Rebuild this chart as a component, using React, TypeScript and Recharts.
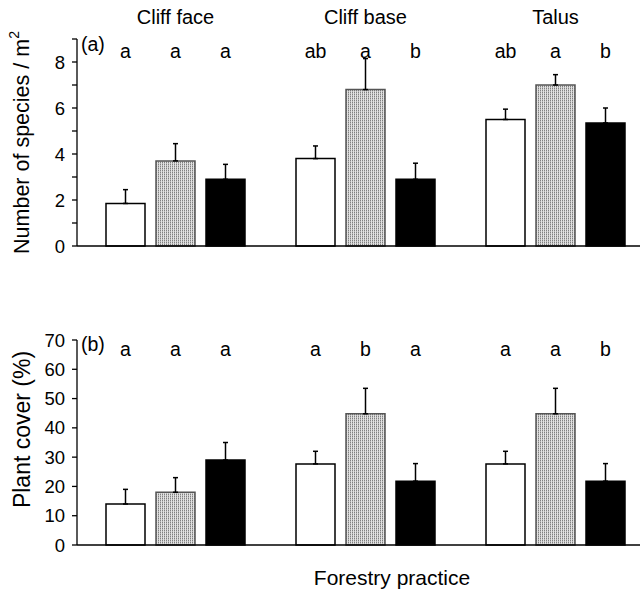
import { BarChart, Bar, XAxis, YAxis, ErrorBar, LabelList } from "recharts";

const FONT = '"Liberation Sans", Arial, Helvetica, sans-serif';

// sites along the slope
const sites = ["Cliff face", "Cliff base", "Talus"];

// (a) species richness, per m2
const speciesOpen = [1.85, 3.8, 5.5];
const speciesStipple = [3.7, 6.8, 7.0];
const speciesSolid = [2.9, 2.9, 5.35];
const speciesOpenErr = [0.6, 0.55, 0.45];
const speciesStippleErr = [0.75, 1.35, 0.45];
const speciesSolidErr = [0.65, 0.7, 0.65];
const speciesOpenSig = ["a", "ab", "ab"];
const speciesStippleSig = ["a", "a", "a"];
const speciesSolidSig = ["a", "b", "b"];
const speciesTicks = [0, 1, 2, 3, 4, 5, 6, 7, 8, 9];

// (b) plant cover, %
const coverOpen = [14, 27.7, 27.7];
const coverStipple = [18, 44.8, 44.8];
const coverSolid = [29, 21.8, 21.8];
const coverOpenErr = [5, 4.3, 4.3];
const coverStippleErr = [5, 8.7, 8.7];
const coverSolidErr = [6, 6, 6];
const coverOpenSig = ["a", "a", "a"];
const coverStippleSig = ["a", "b", "a"];
const coverSolidSig = ["a", "a", "b"];
const coverTicks = [0, 10, 20, 30, 40, 50, 60, 70];

const speciesData = sites.map((site, i) => ({
  site,
  open: speciesOpen[i],
  stipple: speciesStipple[i],
  solid: speciesSolid[i],
  openErr: speciesOpenErr[i],
  stippleErr: speciesStippleErr[i],
  solidErr: speciesSolidErr[i],
  openSig: speciesOpenSig[i],
  stippleSig: speciesStippleSig[i],
  solidSig: speciesSolidSig[i],
}));

const coverData = sites.map((site, i) => ({
  site,
  open: coverOpen[i],
  stipple: coverStipple[i],
  solid: coverSolid[i],
  openErr: coverOpenErr[i],
  stippleErr: coverStippleErr[i],
  solidErr: coverSolidErr[i],
  openSig: coverOpenSig[i],
  stippleSig: coverStippleSig[i],
  solidSig: coverSolidSig[i],
}));

const textStyle = { fontFamily: FONT, fill: "#000" };

// letter drawn over a bar at a fixed height
const letterAt = (y: number) => (props: any) => {
  const { x, width, value } = props;
  return (
    <text x={Number(x) + Number(width) / 2} y={y} textAnchor="middle" fontSize={19.5} {...textStyle}>
      {value}
    </text>
  );
};

const siteLabel = (props: any) => {
  const { x, width, value } = props;
  return (
    <text x={Number(x) + Number(width) / 2} y={24} textAnchor="middle" fontSize={20} {...textStyle}>
      {value}
    </text>
  );
};

const axisTitle = (title: any, size: number, tag: string, tagY: number, shift: number) => (props: any) => {
  const vb = props.viewBox || {};
  const cy = vb.y + vb.height / 2 + shift;
  return (
    <g>
      <text
        x={22}
        y={cy}
        transform={`rotate(-90, 22, ${cy})`}
        textAnchor="middle"
        dominantBaseline="central"
        fontSize={size}
        {...textStyle}
      >
        {title}
      </text>
      <text x={81} y={tagY} fontSize={19.5} {...textStyle}>
        {tag}
      </text>
    </g>
  );
};

const axisStroke = { stroke: "#000", strokeWidth: 1.3 };

function Panel({
  data,
  height,
  top,
  xAxisHeight,
  domain,
  ticks,
  tickFormatter,
  title,
  titleSize,
  titleShift,
  tag,
  tagY,
  letterY,
  showSites,
  xLabel,
}: any) {
  return (
    <BarChart
      width={650}
      height={height}
      data={data}
      margin={{ top, right: 0, left: 0, bottom: 0 }}
      barSize={39}
      barGap={11}
    >
      <XAxis
        dataKey="site"
        tick={false}
        tickLine={false}
        height={xAxisHeight}
        padding={{ left: 3, right: 0 }}
        axisLine={axisStroke}
        label={xLabel}
      />
      <YAxis
        width={77}
        domain={domain}
        ticks={ticks}
        interval={0}
        tickSize={5}
        tickMargin={7}
        tickLine={axisStroke}
        axisLine={axisStroke}
        tickFormatter={tickFormatter}
        tick={{ fontSize: 18.5, fontFamily: FONT, fill: "#000" }}
        label={{ content: axisTitle(title, titleSize, tag, tagY, titleShift) }}
      />
      <Bar dataKey="open" fill="#fff" stroke="#000" strokeWidth={1.5} isAnimationActive={false}>
        <ErrorBar dataKey={(d: any) => [0, d.openErr]} width={2.5} stroke="#000" strokeWidth={1.5} direction="y" />
        <LabelList dataKey="openSig" content={letterAt(letterY)} />
      </Bar>
      <Bar dataKey="stipple" fill="url(#stipple)" stroke="#555" strokeWidth={1.5} isAnimationActive={false}>
        <ErrorBar dataKey={(d: any) => [0, d.stippleErr]} width={2.5} stroke="#000" strokeWidth={1.5} direction="y" />
        <LabelList dataKey="stippleSig" content={letterAt(letterY)} />
        {showSites && <LabelList dataKey="site" content={siteLabel} />}
      </Bar>
      <Bar dataKey="solid" fill="#000" stroke="#000" strokeWidth={1.5} isAnimationActive={false}>
        <ErrorBar dataKey={(d: any) => [0, d.solidErr]} width={2.5} stroke="#000" strokeWidth={1.5} direction="y" />
        <LabelList dataKey="solidSig" content={letterAt(letterY)} />
      </Bar>
    </BarChart>
  );
}

export default function App() {
  const speciesTitle = (
    <>
      Number of species / m
      <tspan dy={-8} fontSize={14}>
        2
      </tspan>
    </>
  );
  const forestryLabel = {
    content: () => (
      <text x={392} y={285} textAnchor="middle" fontSize={21} {...textStyle}>
        Forestry practice
      </text>
    ),
  };
  return (
    <div
      style={{
        position: "absolute",
        left: 0,
        top: 0,
        width: 640,
        height: 592,
        overflow: "hidden",
        background: "#fff",
      }}
    >
      <svg width={0} height={0} style={{ position: "absolute" }}>
        <defs>
          <pattern id="stipple" width={2} height={2} patternUnits="userSpaceOnUse">
            <rect width={2} height={2} fill="#e2e2e2" />
            <rect width={1} height={1} fill="#808080" />
            <rect y={1} width={1} height={1} fill="#b8b8b8" />
          </pattern>
        </defs>
      </svg>
      <div style={{ position: "absolute", left: 0, top: 0 }}>
        <Panel
          data={speciesData}
          height={262}
          top={39}
          xAxisHeight={16}
          domain={[0, 9]}
          ticks={speciesTicks}
          tickFormatter={(v: number) => (v % 2 === 0 ? String(v) : "")}
          title={speciesTitle}
          titleSize={21.5}
          titleShift={0}
          tag="(a)"
          tagY={51}
          letterY={58}
          showSites
        />
      </div>
      <div style={{ position: "absolute", left: 0, top: 300 }}>
        <Panel
          data={coverData}
          height={292}
          top={40}
          xAxisHeight={47}
          domain={[0, 70]}
          ticks={coverTicks}
          tickFormatter={(v: number) => String(v)}
          title="Plant cover (%)"
          titleSize={23}
          titleShift={-13}
          tag="(b)"
          tagY={51}
          letterY={56}
          xLabel={forestryLabel}
        />
      </div>
    </div>
  );
}
